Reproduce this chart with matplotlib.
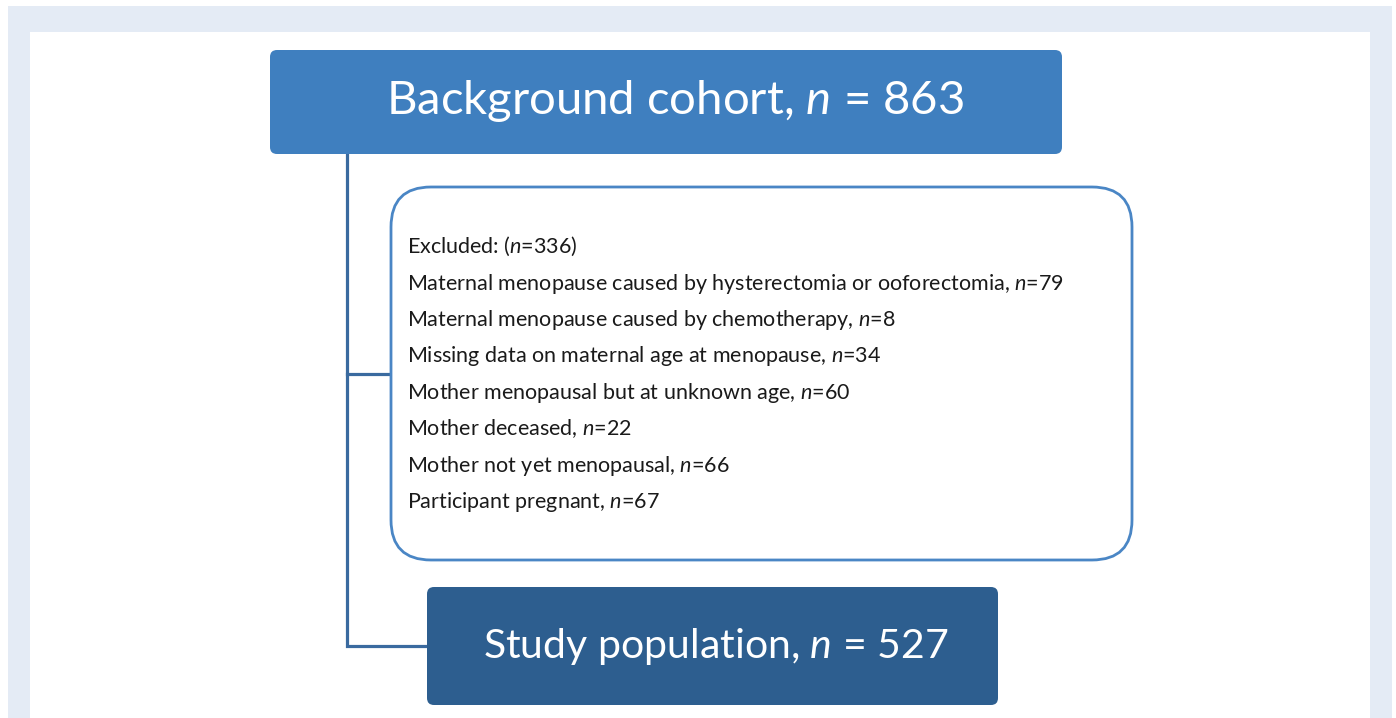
import matplotlib
matplotlib.use("Agg")
import matplotlib.pyplot as plt
from matplotlib.patches import FancyBboxPatch, Rectangle

plt.rcParams['font.family'] = ['Lato', 'DejaVu Sans']
plt.rcParams['mathtext.fontset'] = 'custom'
plt.rcParams['mathtext.it'] = 'Lato:italic'
plt.rcParams['mathtext.rm'] = 'Lato'

# data
cohort_n = 863
study_n = 527
excluded_total = 336
excluded_reasons = [
    "Maternal menopause caused by hysterectomia or ooforectomia",
    "Maternal menopause caused by chemotherapy",
    "Missing data on maternal age at menopause",
    "Mother menopausal but at unknown age",
    "Mother deceased",
    "Mother not yet menopausal",
    "Participant pregnant",
]
excluded_counts = [79, 8, 34, 60, 22, 66, 67]

# colours
frame_col = "#E4EBF5"
top_col = "#3F7FBF"
bottom_col = "#2D5E8F"
edge_col = "#4A86C5"
line_col = "#3A6A9F"

W, H = 1396, 718
fig = plt.figure(figsize=(W / 100, H / 100), dpi=100)
ax = fig.add_axes([0, 0, 1, 1])
ax.set_xlim(0, W)
ax.set_ylim(H, 0)
ax.axis("off")

# page background
ax.add_patch(Rectangle((8, 6), 1384, 712, facecolor=frame_col, edgecolor="none"))
ax.add_patch(Rectangle((30, 32), 1340, 686, facecolor="white", edgecolor="none"))

# connector lines
ax.plot([347, 347, 427], [153, 646, 646], color=line_col, lw=2.3, solid_joinstyle="miter", zorder=1)
ax.plot([347, 391], [374, 374], color=line_col, lw=2.3, zorder=1)

# top box
ax.add_patch(FancyBboxPatch((270, 50), 792, 104, boxstyle="round,pad=0,rounding_size=7",
                            facecolor=top_col, edgecolor="none", zorder=2))
ax.text(675, 114, f"Background cohort, $n$ = {cohort_n}", color="white", fontsize=34,
        ha="center", va="baseline", zorder=3)

# exclusion box
ax.add_patch(FancyBboxPatch((391, 187), 741, 373, boxstyle="round,pad=0,rounding_size=40",
                            facecolor="white", edgecolor=edge_col, lw=2.0, zorder=2))
lines = [f"Excluded: ($n$={excluded_total})"]
lines += [f"{r}, $n$={c}" for r, c in zip(excluded_reasons, excluded_counts)]
for i, s in enumerate(lines):
    ax.text(407, 253 + i * 36.5, s, color="#1a1a1a", fontsize=15.5, ha="left", va="baseline", zorder=3)

# bottom box
ax.add_patch(FancyBboxPatch((427, 587), 571, 118, boxstyle="round,pad=0,rounding_size=7",
                            facecolor=bottom_col, edgecolor="none", zorder=2))
ax.text(716, 658, f"Study population, $n$ = {study_n}", color="white", fontsize=29.5,
        ha="center", va="baseline", zorder=3)

fig.savefig("out.png", dpi=100, facecolor="white")
